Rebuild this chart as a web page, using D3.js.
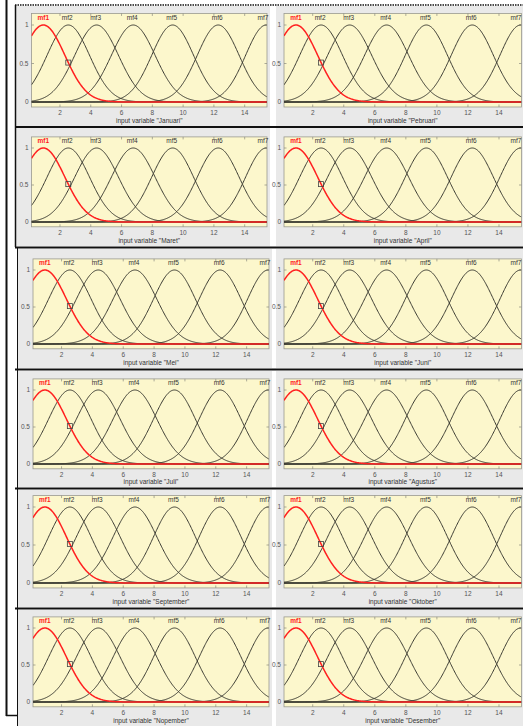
<!DOCTYPE html>
<html><head><meta charset="utf-8">
<script src="https://cdn.jsdelivr.net/npm/d3@7"></script>
<style>
html,body{margin:0;padding:0;background:#fff;}
svg{display:block;font-family:Arial,"Liberation Sans",sans-serif;}
</style></head><body>
<svg id="chart" width="523" height="726"></svg>
<script>
// Input variables (one per month) and their Gaussian membership functions
const months = ["Januari","Pebruari","Maret","April","Mei","Juni","Juli","Agustus","September","Oktober","Nopember","Desember"];
const mfNames = ["mf1","mf2","mf3","mf4","mf5","mf6","mf7"];
const mfCenters = [0.92, 2.54, 4.38, 6.76, 9.32, 12.28, 15.4];
const mfSigmas = [1.40, 1.38, 1.42, 1.42, 1.36, 1.36, 1.34];
const xRange = [0.15, 15.45];
const xTicks = [2, 4, 6, 8, 10, 12, 14];
const yTicks = [0, 0.5, 1];
const selectedMf = 0;
const markerX = 2.54;

// Page layout: six rows, two panels per row
const rowsLayout = [
  {top: 6,   bottom: 126, y1: 25,  y0: 102},
  {top: 128, bottom: 246, y1: 148, y0: 222},
  {top: 249, bottom: 368, y1: 270, y0: 344},
  {top: 371, bottom: 487, y1: 390, y0: 464},
  {top: 490, bottom: 607, y1: 507, y0: 583},
  {top: 610, bottom: 726, y1: 628, y0: 702}
];
const colLayout = [
  r => r < 2 ? {px0: 16, px1: 270, x0: 31.5, x1: 267} : {px0: 18, px1: 272, x0: 33, x1: 269},
  r => ({px0: 276, px1: 523, x0: 284, x1: 521.5})
];
const yDomain = [-0.065, 1.15];

const svg = d3.select("#chart");
const gauss = (x, c, s) => Math.exp(-((x - c) * (x - c)) / (2 * s * s));
const samples = d3.range(xRange[0], xRange[1] + 0.001, 0.04);

months.forEach((m, i) => {
  const r = Math.floor(i / 2), c = i % 2;
  const R = rowsLayout[r], C = colLayout[c](r);
  const g = svg.append("g");

  // figure background
  g.append("rect").attr("x", C.px0).attr("y", R.top)
    .attr("width", C.px1 - C.px0).attr("height", R.bottom - R.top)
    .attr("fill", "#e9e9e9");

  const x = d3.scaleLinear().domain(xRange).range([C.x0, C.x1]);
  const y = d3.scaleLinear().domain([0, 1]).range([R.y0, R.y1]);
  const pTop = y(yDomain[1]), pBot = y(yDomain[0]);

  const clipPlot = `clipP${i}`;
  g.append("defs").append("clipPath").attr("id", clipPlot).append("rect")
    .attr("x", C.x0).attr("y", pTop).attr("width", C.x1 - C.x0).attr("height", pBot - pTop);

  // axes area
  g.append("rect").attr("x", C.x0).attr("y", pTop)
    .attr("width", C.x1 - C.x0).attr("height", pBot - pTop)
    .attr("fill", "#fcf7cc").attr("stroke", "#9a9a90").attr("stroke-width", 0.8);

  // tick marks
  const tk = g.append("g").attr("stroke", "#8a8a80").attr("stroke-width", 0.7);
  xTicks.forEach(t => {
    tk.append("line").attr("x1", x(t)).attr("x2", x(t)).attr("y1", pBot).attr("y2", pBot - 2.5);
    tk.append("line").attr("x1", x(t)).attr("x2", x(t)).attr("y1", pTop).attr("y2", pTop + 2.5);
  });
  yTicks.forEach(t => {
    tk.append("line").attr("x1", C.x0).attr("x2", C.x0 + 2.5).attr("y1", y(t)).attr("y2", y(t));
    tk.append("line").attr("x1", C.x1).attr("x2", C.x1 - 2.5).attr("y1", y(t)).attr("y2", y(t));
  });

  // tick labels
  g.append("g").selectAll("text").data(xTicks).join("text")
    .attr("x", d => x(d)).attr("y", pBot + 6).attr("dy", "0.35em")
    .attr("text-anchor", "middle").attr("font-size", 6.5).attr("fill", "#555")
    .text(d => d);
  g.append("g").selectAll("text").data(yTicks).join("text")
    .attr("x", C.x0 - 3).attr("y", d => y(d)).attr("dy", "0.35em")
    .attr("text-anchor", "end").attr("font-size", 6.5).attr("fill", "#555")
    .text(d => d);

  // membership curves, selected one drawn last
  const line = d3.line().x(d => x(d[0])).y(d => y(d[1]));
  const curves = g.append("g").attr("clip-path", `url(#${clipPlot})`).attr("fill", "none");
  const order = mfNames.map((_, k) => k).filter(k => k !== selectedMf).concat([selectedMf]);
  order.forEach(k => {
    const pts = samples.map(v => [v, gauss(v, mfCenters[k], mfSigmas[k])]);
    curves.append("path").attr("d", line(pts))
      .attr("stroke", k === selectedMf ? "#ff2020" : "#3b3b32")
      .attr("stroke-width", k === selectedMf ? 1.5 : 1);
  });

  // marker on the selected curve
  const my = gauss(markerX, mfCenters[selectedMf], mfSigmas[selectedMf]);
  g.append("rect").attr("x", x(markerX) - 2.5).attr("y", y(my) - 2.5)
    .attr("width", 5).attr("height", 5)
    .attr("fill", "none").attr("stroke", "#444").attr("stroke-width", 0.8);

  // mf labels, kept inside the panel
  g.append("g").selectAll("text").data(mfNames).join("text")
    .attr("x", (d, k) => Math.min(x(mfCenters[k]) - (k === selectedMf ? 0 : 1), C.px1 - 7))
    .attr("y", y(1.1)).attr("dy", "0.35em")
    .attr("text-anchor", "middle").attr("font-size", 6.5)
    .attr("font-weight", (d, k) => k === selectedMf ? "bold" : "normal")
    .attr("fill", (d, k) => k === selectedMf ? "#ff2020" : "#333")
    .text(d => d);

  // axis title, kept above the page bottom
  g.append("text").attr("x", (C.x0 + C.x1) / 2)
    .attr("y", Math.min(pBot + 15, R.bottom - 5)).attr("dy", "0.35em")
    .attr("text-anchor", "middle").attr("font-size", 6.5).attr("fill", "#333")
    .text(`input variable "${m}"`);
});

// frame lines around the page
const frame = svg.append("g").attr("stroke", "#111").attr("fill", "none");
frame.append("line").attr("x1", 6.5).attr("x2", 6.5).attr("y1", 0).attr("y2", 716).attr("stroke-width", 2);
frame.append("line").attr("x1", 6).attr("x2", 17).attr("y1", 715.5).attr("y2", 715.5).attr("stroke-width", 1.5);
frame.append("line").attr("x1", 15.5).attr("x2", 15.5).attr("y1", 5).attr("y2", 247).attr("stroke-width", 1.5);
frame.append("line").attr("x1", 17.5).attr("x2", 17.5).attr("y1", 247).attr("y2", 726).attr("stroke-width", 1);
frame.append("line").attr("x1", 15).attr("x2", 523).attr("y1", 5).attr("y2", 5)
  .attr("stroke-width", 1.5).attr("stroke-dasharray", "1.5,1");
[127, 247.5, 369.5, 488.5, 608.5].forEach(v => {
  frame.append("line").attr("x1", 15).attr("x2", 523).attr("y1", v).attr("y2", v).attr("stroke-width", 2);
});
</script>
</body></html>
